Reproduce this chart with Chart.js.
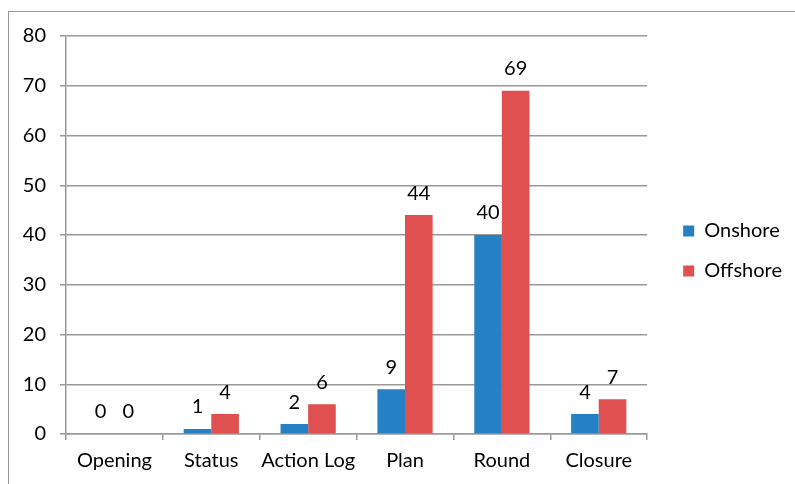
<!DOCTYPE html>
<html>
<head>
<meta charset="utf-8">
<script src="https://cdn.jsdelivr.net/npm/chart.js@4.4.1/dist/chart.umd.min.js"></script>
<style>
  html, body { margin: 0; padding: 0; background: #fff; }
  #wrap { position: relative; width: 795px; height: 484px; overflow: hidden; }
  #frame { position: absolute; left: 8px; top: 11px; width: 800px; height: 500px; border: 1px solid #999; box-sizing: border-box; }
  canvas { position: absolute; left: 0; top: 0; }
</style>
</head>
<body>
<div id="wrap">
  <div id="frame"></div>
  <canvas id="chart" width="795" height="484"></canvas>
</div>
<script>
// chart data
const categories = ["Opening", "Status", "Action Log", "Plan", "Round", "Closure"];
const onshore = [0, 1, 2, 9, 40, 4];
const offshore = [0, 4, 6, 44, 69, 7];
const yTicks = [0, 10, 20, 30, 40, 50, 60, 70, 80];

const FONT = "Lato, 'Open Sans', sans-serif";
const gridColor = "#999999";

// value labels above each bar
const valueLabels = {
  id: "valueLabels",
  afterDatasetsDraw(chart) {
    const ctx = chart.ctx;
    ctx.save();
    ctx.font = "20px " + FONT;
    ctx.fillStyle = "#000";
    ctx.textAlign = "center";
    ctx.textBaseline = "middle";
    chart.data.datasets.forEach((ds, i) => {
      chart.getDatasetMeta(i).data.forEach((bar, j) => {
        ctx.fillText(ds.data[j], bar.x, bar.y - 22);
      });
    });
    ctx.restore();
  }
};

// move the legend a little off the plot
const legendNudge = {
  id: "legendNudge",
  afterLayout(chart) {
    const lg = chart.legend;
    lg.left += 16;
    lg.right += 16;
    lg.top -= 9;
    lg.bottom -= 9;
  }
};

new Chart(document.getElementById("chart"), {
  type: "bar",
  data: {
    labels: categories,
    datasets: [
      { label: "Onshore", data: onshore, backgroundColor: "#2581C4", categoryPercentage: 0.57, barPercentage: 1 },
      { label: "Offshore", data: offshore, backgroundColor: "#E05050", categoryPercentage: 0.57, barPercentage: 1 }
    ]
  },
  options: {
    responsive: false,
    animation: false,
    layout: { padding: { top: 36, left: 0, bottom: 0, right: 19 } },
    plugins: {
      legend: {
        position: "right",
        labels: {
          font: { family: FONT, size: 20 },
          color: "#000",
          boxWidth: 11,
          boxHeight: 11,
          padding: 20
        }
      },
      tooltip: { enabled: false }
    },
    scales: {
      x: {
        grid: { display: true, drawOnChartArea: false, drawTicks: true, tickLength: 6, color: gridColor, lineWidth: 1.5 },
        border: { color: gridColor, width: 1.5 },
        ticks: { font: { family: FONT, size: 20 }, color: "#000", padding: 9, maxRotation: 0, autoSkip: false },
        afterFit(scale) { scale.height = 50; }
      },
      y: {
        min: 0,
        max: 80,
        afterBuildTicks(scale) { scale.ticks = yTicks.map(v => ({ value: v })); },
        grid: { color: gridColor, lineWidth: 1.5, tickLength: 6 },
        border: { color: gridColor, width: 1.5 },
        ticks: { font: { family: FONT, size: 20 }, color: "#000", padding: 14 },
        afterFit(scale) { scale.width = 66; }
      }
    }
  },
  plugins: [valueLabels, legendNudge]
});
</script>
</body>
</html>
